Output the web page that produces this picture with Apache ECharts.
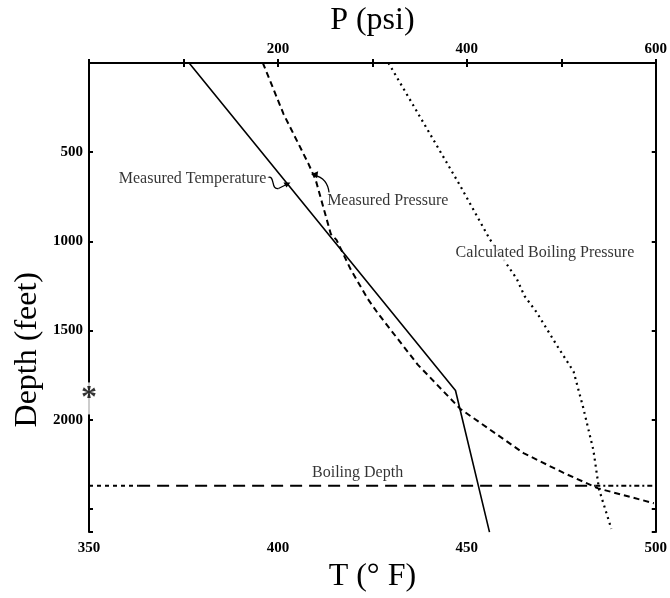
<!DOCTYPE html>
<html>
<head>
<meta charset="utf-8">
<script src="https://cdn.jsdelivr.net/npm/echarts@6/dist/echarts.min.js"></script>
<style>
    html, body { margin: 0; padding: 0; background: #fff; }
    #chart { width: 670px; height: 598px; }
</style>
</head>
<body>
<div id="chart"></div>
<script>
    // measured temperature: [T (°F), depth (ft)]
    const measuredTemp = [[376.5, 0], [447, 1836], [456, 2630]];
    // measured pressure: [P (psi), depth (ft)]
    const measuredPressure = [[184, 0], [206, 287], [232, 562], [240, 656], [256, 959], [262, 992], [277, 1157],
        [295, 1322], [306, 1405], [348, 1691], [393, 1939], [460, 2187], [502, 2297], [539, 2385], [598, 2468]];
    // calculated boiling pressure: [P (psi), depth (ft)]
    const boilingPressure = [[317, 0], [361, 398], [393, 689], [424, 986], [453, 1212], [461, 1306], [474, 1399],
        [495, 1581], [513, 1730], [523, 1928], [534, 2171], [540, 2391], [553, 2612]];
    const boilingDepth = 2370;
    const kinkDepth = 1836;
    // where the boiling-depth line changes dash style (°F)
    const boilingBreaks = [350, 363, 484, 500];

    const tempLabels = [350, 400, 450, 500];
    const pressureLabels = [200, 400, 600];
    const depthLabels = [500, 1000, 1500, 2000];

    // text notes: [T, depth, text, side]
    const notes = [
        [397.5, 648, 'Measured Temperature', 'left'],
        [412.5, 775, 'Measured Pressure', 'right'],
        [446.5, 1065, 'Calculated Boiling Pressure', 'right'],
        [408.5, 2295, 'Boiling Depth', 'right']
    ];

    const serif = "'Liberation Serif', 'DejaVu Serif', serif";
    const black = '#000';

    let myChart = echarts.init(document.getElementById('chart'));

    const tickLabel = {
        color: black,
        fontFamily: serif,
        fontWeight: 'bold',
        fontSize: 15
    };
    const titleStyle = { color: black, fontFamily: serif, fontSize: 32 };

    myChart.setOption({
        animation: false,
        backgroundColor: '#fff',
        grid: {
            left: 89,
            right: 11,
            top: 61,
            bottom: 58
        },
        xAxis: [{
            type: 'value',
            position: 'bottom',
            min: 350,
            max: 500,
            interval: 25,
            name: 'T (° F)',
            nameLocation: 'middle',
            nameGap: 27,
            nameTextStyle: titleStyle,
            axisLine: { lineStyle: { color: black, width: 2 } },
            axisTick: { inside: true, length: 4, lineStyle: { color: black, width: 2 } },
            splitLine: { show: false },
            axisLabel: Object.assign({
                margin: 9,
                formatter: v => tempLabels.indexOf(v) >= 0 ? String(v) : ''
            }, tickLabel)
        }, {
            type: 'value',
            position: 'top',
            min: 0,
            max: 600,
            interval: 100,
            name: 'P (psi)',
            nameLocation: 'middle',
            nameGap: 16,
            nameTextStyle: titleStyle,
            axisLine: { lineStyle: { color: black, width: 2 } },
            axisTick: { inside: true, length: 4, lineStyle: { color: black, width: 2 } },
            splitLine: { show: false },
            axisLabel: Object.assign({
                margin: 6,
                formatter: v => pressureLabels.indexOf(v) >= 0 ? String(v) : ''
            }, tickLabel)
        }],
        yAxis: [{
            type: 'value',
            position: 'left',
            inverse: true,
            min: 0,
            max: 2630,
            interval: 500,
            axisLine: { lineStyle: { color: black, width: 2 } },
            axisTick: { inside: true, length: 4, lineStyle: { color: black, width: 2 } },
            splitLine: { show: false },
            axisLabel: Object.assign({
                margin: 6,
                formatter: v => depthLabels.indexOf(v) >= 0 ? String(v) : ''
            }, tickLabel)
        }, {
            type: 'value',
            position: 'right',
            inverse: true,
            min: 0,
            max: 2630,
            interval: 500,
            axisLine: { show: true, lineStyle: { color: black, width: 2 } },
            axisTick: { inside: true, length: 4, lineStyle: { color: black, width: 2 } },
            splitLine: { show: false },
            axisLabel: { show: false }
        }],
        series: [{
            name: 'Measured Temperature',
            type: 'line',
            xAxisIndex: 0,
            yAxisIndex: 0,
            symbol: 'none',
            data: measuredTemp,
            lineStyle: { color: black, width: 1.6 }
        }, {
            name: 'Measured Pressure',
            type: 'line',
            xAxisIndex: 1,
            yAxisIndex: 0,
            symbol: 'none',
            data: measuredPressure,
            lineStyle: { color: black, width: 2, type: [6, 4] }
        }, {
            name: 'Calculated Boiling Pressure',
            type: 'line',
            xAxisIndex: 1,
            yAxisIndex: 0,
            symbol: 'none',
            data: boilingPressure,
            lineStyle: { color: black, width: 2.2, type: [2, 4] }
        }, {
            name: 'Boiling Depth a',
            type: 'line',
            xAxisIndex: 0,
            yAxisIndex: 0,
            symbol: 'none',
            data: [[boilingBreaks[0], boilingDepth], [boilingBreaks[1], boilingDepth]],
            lineStyle: { color: black, width: 2, type: [4, 4] }
        }, {
            name: 'Boiling Depth b',
            type: 'line',
            xAxisIndex: 0,
            yAxisIndex: 0,
            symbol: 'none',
            data: [[boilingBreaks[1], boilingDepth], [boilingBreaks[2], boilingDepth]],
            lineStyle: { color: black, width: 2, type: [12, 7] }
        }, {
            name: 'Boiling Depth c',
            type: 'line',
            xAxisIndex: 0,
            yAxisIndex: 0,
            symbol: 'none',
            data: [[boilingBreaks[2], boilingDepth], [boilingBreaks[3], boilingDepth]],
            lineStyle: { color: black, width: 2, type: [5, 3, 2, 3] }
        }, {
            name: 'notes',
            type: 'scatter',
            xAxisIndex: 0,
            yAxisIndex: 0,
            symbolSize: 0,
            z: 5,
            data: notes.map(n => ({
                value: [n[0], n[1]],
                label: {
                    show: true,
                    position: n[3],
                    distance: 0,
                    formatter: n[2],
                    color: black,
                    fontFamily: serif,
                    fontSize: 16,
                    backgroundColor: '#fff',
                    padding: [1, 2]
                }
            }))
        }, {
            name: 'kink',
            type: 'scatter',
            xAxisIndex: 0,
            yAxisIndex: 0,
            symbolSize: 0,
            z: 5,
            data: [[350, kinkDepth]],
            label: {
                show: true,
                position: 'inside',
                formatter: '*',
                color: black,
                fontFamily: serif,
                fontWeight: 'bold',
                fontSize: 32,
                offset: [0, 8],
                backgroundColor: '#fff',
                padding: [0, 0]
            }
        }]
    });

    // axis title on the left, plus the little curly leader arrows next to the two "Measured" notes
    const a = myChart.convertToPixel({ xAxisIndex: 0, yAxisIndex: 0 }, [notes[0][0], notes[0][1]]);
    const b = myChart.convertToPixel({ xAxisIndex: 0, yAxisIndex: 0 }, [notes[1][0], notes[1][1]]);
    myChart.setOption({
        graphic: [{
            type: 'text',
            left: 12,
            top: 272,
            rotation: Math.PI / 2,
            style: { text: 'Depth (feet)', fill: black, font: '32px ' + serif }
        }, {
            type: 'bezierCurve',
            shape: { x1: a[0] - 1, y1: a[1] - 1, cpx1: a[0] + 7, cpy1: a[1] - 4, cpx2: a[0] + 2, cpy2: a[1] + 12, x2: a[0] + 10, y2: a[1] + 10 },
            style: { stroke: black, lineWidth: 1.3, fill: null }
        }, {
            type: 'line',
            shape: { x1: a[0] + 10, y1: a[1] + 10, x2: a[0] + 20, y2: a[1] + 5 },
            style: { stroke: black, lineWidth: 1.3 }
        }, {
            type: 'polygon',
            shape: { points: [[a[0] + 22, a[1] + 4], [a[0] + 15, a[1] + 4], [a[0] + 18, a[1] + 9]] },
            style: { fill: black }
        }, {
            type: 'bezierCurve',
            shape: { x1: b[0] + 4, y1: b[1] - 8, cpx1: b[0] + 3, cpy1: b[1] - 18, cpx2: b[0] - 2, cpy2: b[1] - 24, x2: b[0] - 11, y2: b[1] - 26 },
            style: { stroke: black, lineWidth: 1.3, fill: null }
        }, {
            type: 'polygon',
            shape: { points: [[b[0] - 14, b[1] - 27], [b[0] - 7, b[1] - 30], [b[0] - 8, b[1] - 23]] },
            style: { fill: black }
        }]
    });
</script>
</body>
</html>
